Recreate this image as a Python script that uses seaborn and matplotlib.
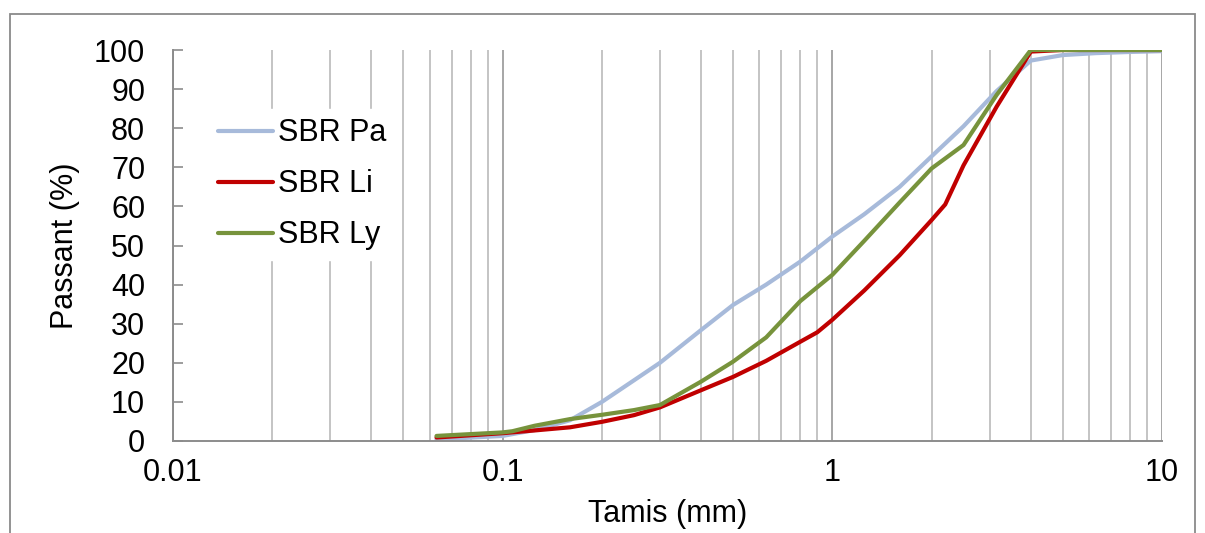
import matplotlib
matplotlib.use("Agg")
import matplotlib.pyplot as plt
import matplotlib.patches as mpatches
from matplotlib.ticker import LogLocator, FixedLocator, NullFormatter, FixedFormatter
import seaborn as sns
import pandas as pd

# ---- data ----
series_names = ["SBR Pa", "SBR Li", "SBR Ly"]

pa_sizes = [0.063, 0.1, 0.125, 0.16, 0.2, 0.25, 0.3, 0.4, 0.5, 0.63, 0.8, 1.0,
            1.25, 1.6, 2.0, 2.5, 3.15, 4.0, 5.0, 6.3, 8.0, 10.0]
pa_pass = [0.4, 1.3, 2.8, 5.3, 10.0, 15.5, 20.0, 28.4, 34.8, 40.0, 45.9, 52.3,
           58.0, 65.0, 72.8, 80.5, 89.5, 97.3, 98.7, 99.2, 99.5, 99.7]

li_sizes = [0.063, 0.1, 0.125, 0.16, 0.2, 0.25, 0.3, 0.4, 0.5, 0.63, 0.8, 0.9,
            1.0, 1.25, 1.6, 2.0, 2.2, 2.5, 3.15, 4.0, 5.0, 10.0]
li_pass = [0.9, 2.0, 2.7, 3.5, 4.9, 6.6, 8.6, 13.0, 16.4, 20.5, 25.4, 27.8,
           31.0, 38.5, 47.5, 56.5, 60.5, 70.5, 85.5, 99.6, 100.0, 100.0]

ly_sizes = [0.063, 0.1, 0.107, 0.125, 0.16, 0.2, 0.25, 0.3, 0.4, 0.5, 0.63, 0.8,
            1.0, 1.25, 1.6, 2.0, 2.5, 3.15, 4.0, 5.0, 10.0]
ly_pass = [1.3, 2.2, 2.5, 3.9, 5.6, 6.7, 7.9, 9.2, 15.2, 20.3, 26.5, 35.8,
           42.5, 51.2, 61.0, 69.7, 75.7, 88.5, 100.0, 100.0, 100.0]

x_ticks = [0.01, 0.1, 1, 10]
x_tick_labels = ["0.01", "0.1", "1", "10"]
y_ticks = list(range(0, 101, 10))

colors = {"SBR Pa": "#A7BADA", "SBR Li": "#C00000", "SBR Ly": "#77933C"}

rows = []
for name, xs, ys in zip(series_names, [pa_sizes, li_sizes, ly_sizes],
                        [pa_pass, li_pass, ly_pass]):
    for xv, yv in zip(xs, ys):
        rows.append({"Tamis": xv, "Passant": yv, "Série": name})
df = pd.DataFrame(rows)

sns.set_style("white")
plt.rcParams["font.family"] = ["Liberation Sans", "DejaVu Sans"]
plt.rcParams["text.color"] = "black"
plt.rcParams["axes.labelcolor"] = "black"
plt.rcParams["xtick.color"] = "black"
plt.rcParams["ytick.color"] = "black"

FS = 22

fig = plt.figure(figsize=(12.05, 5.33), dpi=100)
ax = fig.add_axes([173 / 1205, 1 - 441 / 533, (1162 - 173) / 1205, (441 - 50) / 533])

sns.lineplot(data=df, x="Tamis", y="Passant", hue="Série", hue_order=series_names,
             palette=colors, linewidth=3.0, ax=ax, sort=True, estimator=None,
             legend=True, zorder=3)

ax.set_xscale("log")
ax.set_xlim(0.01, 10)
ax.set_ylim(0, 100)

# gridlines
ax.xaxis.set_major_locator(FixedLocator(x_ticks))
ax.xaxis.set_major_formatter(FixedFormatter(x_tick_labels))
ax.xaxis.set_minor_locator(LogLocator(base=10, subs=range(2, 10), numticks=20))
ax.xaxis.set_minor_formatter(NullFormatter())
ax.grid(True, axis="x", which="major", color="#a6a6a6", linewidth=1.4, zorder=1)
ax.grid(True, axis="x", which="minor", color="#c4c4c4", linewidth=1.4, zorder=1)
ax.grid(False, axis="y")
ax.set_axisbelow(True)

ax.set_yticks(y_ticks)
ax.tick_params(axis="y", which="major", direction="in", length=7, width=1.2,
               color="#8c8c8c", labelcolor="black", labelsize=FS, pad=20, left=True)
ax.tick_params(axis="x", which="both", length=0, labelsize=FS, labelcolor="black", pad=12)

for side in ["top", "right"]:
    ax.spines[side].set_visible(False)
for side in ["left", "bottom"]:
    ax.spines[side].set_color("#8c8c8c")
    ax.spines[side].set_linewidth(1.4)
    ax.spines[side].set_zorder(4)

ax.set_xlabel("Tamis (mm)", fontsize=FS, labelpad=8, color="black")
ax.set_ylabel("Passant (%)", fontsize=FS, labelpad=10, color="black")

leg = ax.legend(loc="upper left", bbox_to_anchor=(0.0364, 0.849), frameon=True,
                fontsize=FS, handlelength=1.8, handletextpad=0.16, labelspacing=0.69,
                borderpad=0.3, borderaxespad=0.0, fancybox=False)
leg.get_frame().set_facecolor("white")
leg.get_frame().set_edgecolor("white")
leg.get_frame().set_alpha(1.0)
leg.set_zorder(5)
for line in leg.get_lines():
    line.set_linewidth(3.0)
for t in leg.get_texts():
    t.set_color("black")

# outer chart-area border (cut at the bottom like the reference)
border = mpatches.Rectangle((10 / 1205, -0.1), (1195 - 10) / 1205, 1.1 - 14 / 533,
                            transform=fig.transFigure, fill=False,
                            edgecolor="#8a8a8a", linewidth=1.3)
fig.patches.append(border)

fig.savefig("out.png", dpi=100)
